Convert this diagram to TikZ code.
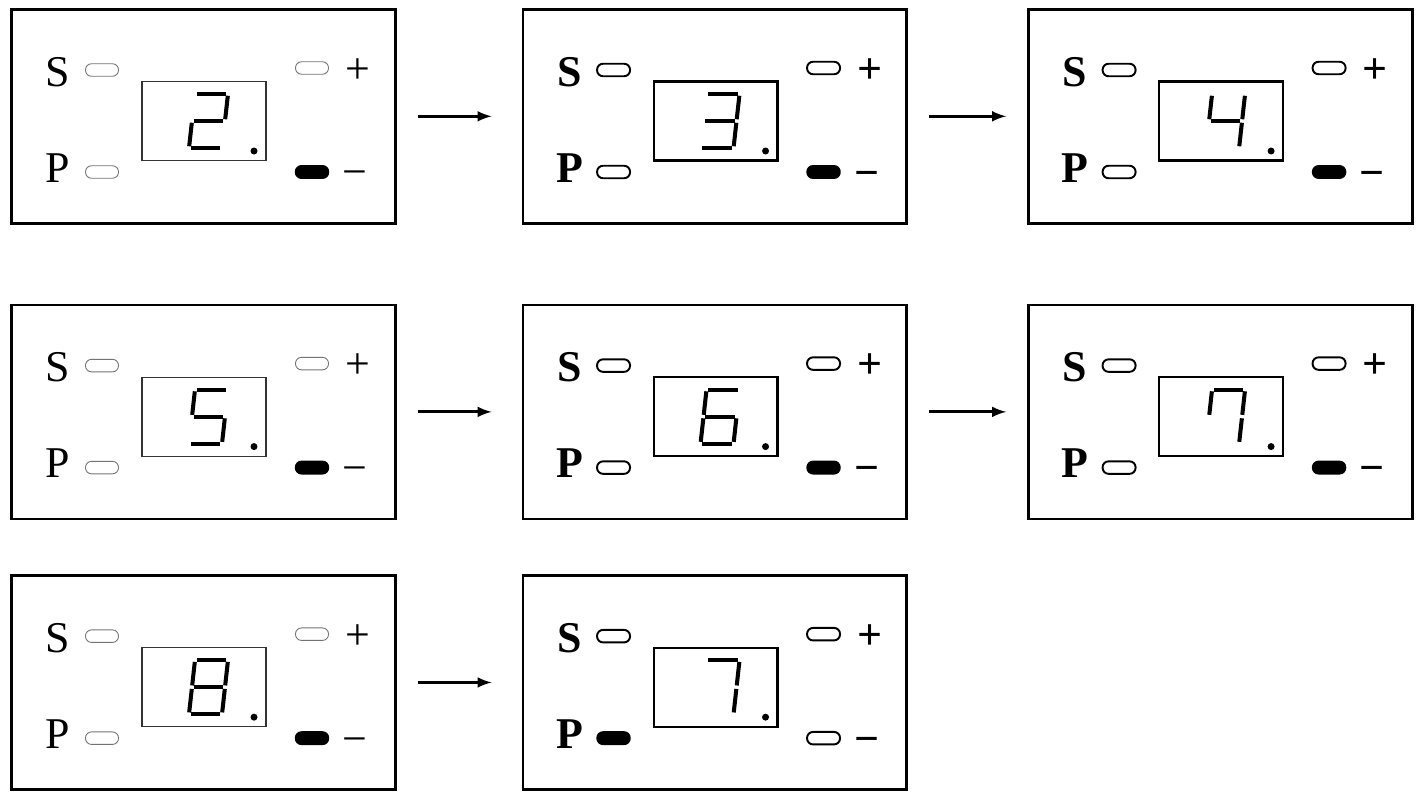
\documentclass[tikz,border=0pt]{standalone}
\usepackage{fontspec}
\setmainfont{Liberation Serif}
\usetikzlibrary{positioning}

\tikzset{
  panelbox/.style={draw, line width=1.5pt, minimum width=7.68cm, minimum height=4.28cm, inner sep=0pt},
  flow/.style={-latex, line width=1.7pt, shorten <=0.42cm, shorten >=0.42cm},
  led/.style={rounded corners=0.12cm, minimum width=0.66cm, minimum height=0.25cm, inner sep=0pt},
  ledon/.style={led, draw, fill=black, line width=0.8pt},
  thinlook/.style={
    ledoff/.style={led, draw=black!55, line width=0.5pt},
    tag/.style={font=\fontsize{25}{25}\selectfont, inner sep=0pt},
    display/.style={draw=black!80, line width=0.6pt, minimum width=2.48cm, minimum height=1.58cm}},
  boldlook/.style={
    ledoff/.style={led, draw, line width=1.1pt},
    tag/.style={font=\fontsize{25}{25}\selectfont\bfseries, inner sep=0pt},
    display/.style={draw, line width=1.2pt, minimum width=2.48cm, minimum height=1.58cm}},
  segment/.style={line width=2.3pt, shorten <=0.035cm, shorten >=0.035cm},
  seg a/.pic={\draw[segment] (TL) -- (TR);},
  seg b/.pic={\draw[segment] (TR) -- (MR);},
  seg c/.pic={\draw[segment] (MR) -- (BR);},
  seg d/.pic={\draw[segment] (BL) -- (BR);},
  seg e/.pic={\draw[segment] (ML) -- (BL);},
  seg f/.pic={\draw[segment] (TL) -- (ML);},
  seg g/.pic={\draw[segment] (ML) -- (MR);}
}

\newcommand{\ledpanel}[5]{%
  \begin{scope}[shift={(#1.north west)}, #2]
    \node[tag] (#1s) at (48,64) {S};
    \node[tag] (#1p) at (48,160) {P};
    \node[ledoff] (#1sl) at (92,62) {};
    \node[#4] (#1pl) at (92,164) {};
    \node[ledoff] (#1ul) at (302,60) {};
    \node[#5] (#1ml) at (302,164) {};
    \node[tag] (#1u) at (348,63) {+};
    \node[tag] (#1m) at (345,171) {−};
    \node[display] (#1d) at (194,113) {};
    \coordinate (TL) at (185,86);
    \coordinate (TR) at (218,86);
    \coordinate (ML) at (182,113);
    \coordinate (MR) at (215,113);
    \coordinate (BL) at (179,140);
    \coordinate (BR) at (212,140);
    \foreach \s in {#3} \pic {seg \s};
    \fill (244,143) circle (0.07cm);
  \end{scope}}

\begin{document}
\begin{tikzpicture}[x=0.02cm, y=-0.02cm]
  \useasboundingbox (0,0) rectangle (1422,794);

  \node[panelbox, anchor=north west] (p1) at (10,8) {};
  \node[panelbox] (p2) [right=2.5cm of p1] {};
  \node[panelbox] (p3) [right=2.38cm of p2] {};
  \node[panelbox] (p4) [below=1.58cm of p1] {};
  \node[panelbox] (p5) [right=2.5cm of p4] {};
  \node[panelbox] (p6) [right=2.38cm of p5] {};
  \node[panelbox] (p7) [below=1.08cm of p4] {};
  \node[panelbox] (p8) [right=2.5cm of p7] {};

  \ledpanel{p1}{thinlook}{a,b,g,e,d}{ledoff}{ledon}
  \ledpanel{p2}{boldlook}{a,b,g,c,d}{ledoff}{ledon}
  \ledpanel{p3}{boldlook}{f,g,b,c}{ledoff}{ledon}
  \ledpanel{p4}{thinlook}{a,f,g,c,d}{ledoff}{ledon}
  \ledpanel{p5}{boldlook}{a,f,g,e,d,c}{ledoff}{ledon}
  \ledpanel{p6}{boldlook}{a,f,b,c}{ledoff}{ledon}
  \ledpanel{p7}{thinlook}{a,b,c,d,e,f,g}{ledoff}{ledon}
  \ledpanel{p8}{boldlook}{a,b,c}{ledon}{ledoff}

  \draw[flow, shorten >=0.6cm] (p1) -- (p2);
  \draw[flow] (p2) -- (p3);
  \draw[flow, shorten >=0.6cm] (p4) -- (p5);
  \draw[flow] (p5) -- (p6);
  \draw[flow, shorten >=0.6cm] (p7) -- (p8);
\end{tikzpicture}
\end{document}
